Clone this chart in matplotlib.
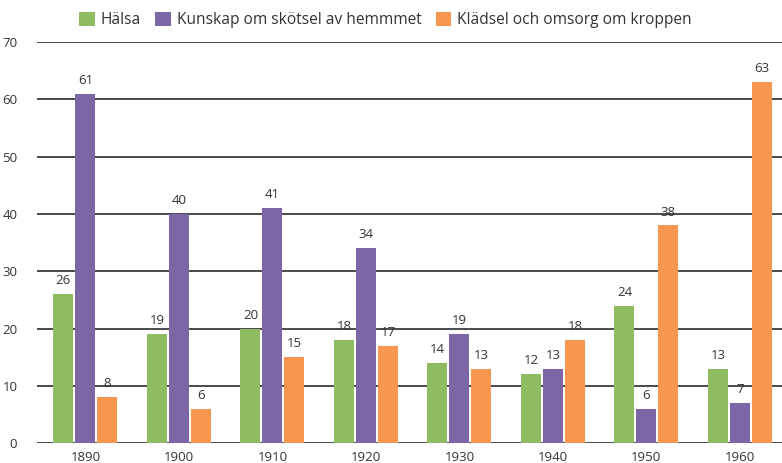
import matplotlib
matplotlib.use("Agg")
import matplotlib.pyplot as plt
import numpy as np

plt.rcParams['font.family'] = ['Open Sans', 'DejaVu Sans']

years = ["1890", "1900", "1910", "1920", "1930", "1940", "1950", "1960"]
halsa = [26, 19, 20, 18, 14, 12, 24, 13]
kunskap = [61, 40, 41, 34, 19, 13, 6, 7]
kladsel = [8, 6, 15, 17, 13, 18, 38, 63]
series_names = ["Hälsa", "Kunskap om skötsel av hemmmet", "Klädsel och omsorg om kroppen"]
colors = ["#8fbc63", "#7b66a6", "#f7964f"]

fig = plt.figure(figsize=(7.82, 4.63), dpi=100)
ax = fig.add_axes([0.047, 0.043, 0.953, 0.866])

x = np.arange(len(years))
w = 0.214
step = 0.235
handles = []
for i, (vals, name, c) in enumerate(zip([halsa, kunskap, kladsel], series_names, colors)):
    pos = x + (i - 1) * step
    b = ax.bar(pos, vals, width=w, color=c, label=name, zorder=3)
    handles.append(b)
    for p, v in zip(pos, vals):
        ax.text(p, v + 1.2, str(v), ha='center', va='bottom', fontsize=9.5, color='#333333', zorder=4)

ax.set_xlim(-0.52, len(years) - 0.55)
ax.set_ylim(0, 70)
ax.set_yticks(range(0, 71, 10))
ax.set_xticks(x)
ax.set_xticklabels(years)
for s in ax.spines.values():
    s.set_visible(False)
ax.yaxis.grid(True, color='#4a4a4a', linewidth=1.4, zorder=1)
ax.set_axisbelow(True)
ax.tick_params(axis='both', length=0, labelsize=9.5, colors='#333333')
ax.tick_params(axis='y', pad=14)
ax.tick_params(axis='x', pad=6)

leg = fig.legend(handles=handles, loc='upper center', bbox_to_anchor=(0.493, 1.005), ncol=3,
                 frameon=False, fontsize=11.2, handlelength=1.0, handleheight=1.0,
                 handletextpad=0.4, columnspacing=0.9, labelcolor='#333333')

fig.savefig("out.png", dpi=100)
